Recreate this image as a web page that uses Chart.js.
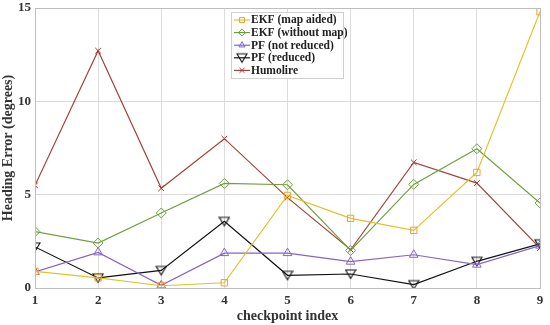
<!DOCTYPE html>
<html>
<head>
<meta charset="utf-8">
<script src="https://cdn.jsdelivr.net/npm/chart.js@4"></script>
<style>
  html, body { margin: 0; padding: 0; background: #fff; }
  #wrap { width: 550px; height: 325px; }
</style>
</head>
<body>
<div id="wrap"><canvas id="chart" width="550" height="325"></canvas></div>
<script>
// values
const checkpoints = [1, 2, 3, 4, 5, 6, 7, 8, 9];
const ekfMapAided = [0.89, 0.54, 0.12, 0.28, 4.96, 3.73, 3.09, 6.19, 14.8];
const ekfWithoutMap = [3.02, 2.41, 4.02, 5.6, 5.53, 2.01, 5.55, 7.46, 4.55];
const pfNotReduced = [0.86, 1.91, 0.14, 1.87, 1.87, 1.41, 1.78, 1.25, 2.27];
const pfReduced = [2.2, 0.54, 0.94, 3.57, 0.68, 0.75, 0.18, 1.43, 2.37];
const humolire = [5.5, 12.71, 5.34, 8.0, 4.84, 2.05, 6.73, 5.62, 2.14];
const yTicks = [0, 5, 10, 15];

const serif = "'Liberation Serif', 'Times New Roman', serif";

function series(label, values, line, marker, style, size) {
  return {
    label: label,
    data: values.map((v, i) => ({ x: checkpoints[i], y: v })),
    borderColor: line,
    backgroundColor: 'rgba(0,0,0,0)',
    pointBorderColor: marker,
    pointBackgroundColor: 'rgba(0,0,0,0)',
    pointStyle: style,
    pointRadius: size,
    pointBorderWidth: 1,
    borderWidth: 1.2,
    tension: 0
  };
}

// inverted triangle for the reduced PF markers
const downTri = document.createElement('canvas');
downTri.width = 12; downTri.height = 12;
(function () {
  const c = downTri.getContext('2d');
  c.strokeStyle = '#111';
  c.lineWidth = 1.1;
  c.beginPath();
  c.moveTo(1, 2);
  c.lineTo(11, 2);
  c.lineTo(6, 10.5);
  c.closePath();
  c.stroke();
})();

const boxPlugin = {
  id: 'box',
  afterDraw(chart) {
    const { ctx, chartArea: a } = chart;
    ctx.save();
    ctx.strokeStyle = '#bdbdbd';
    ctx.lineWidth = 1;
    ctx.strokeRect(a.left + 0.5, a.top + 0.5, a.right - a.left, a.bottom - a.top);

    // legend box inside the plot
    const lx = 231, ly = 12, lw = 112, lh = 66;
    ctx.fillStyle = '#fff';
    ctx.fillRect(lx, ly, lw, lh);
    ctx.strokeStyle = '#d0d0d0';
    ctx.strokeRect(lx + 0.5, ly + 0.5, lw, lh);
    ctx.font = "bold 11.5px " + serif;
    ctx.textBaseline = 'middle';
    chart.data.datasets.forEach((ds, i) => {
      const y = ly + 8 + i * 12.6;
      ctx.strokeStyle = ds.borderColor;
      ctx.lineWidth = 1.2;
      ctx.beginPath();
      ctx.moveTo(lx + 3, y);
      ctx.lineTo(lx + 19, y);
      ctx.stroke();
      ctx.lineWidth = 1;
      ctx.strokeStyle = ds.pointBorderColor;
      ctx.fillStyle = 'rgba(0,0,0,0)';
      if (ds.pointStyle === downTri) {
        ctx.drawImage(downTri, lx + 5, y - 6, 12, 12);
      } else {
        Chart.helpers.drawPoint(ctx, {
          pointStyle: ds.pointStyle,
          radius: 3.5,
          borderWidth: 1,
          rotation: 0
        }, lx + 11, y);
      }
      ctx.fillStyle = '#222';
      ctx.fillText(ds.label, lx + 20, y + 0.5);
    });
    ctx.restore();
  }
};

const datasets = [
  series('EKF (map aided)', ekfMapAided, '#e3c12a', '#f0a030', 'rect', 4.5),
  series('EKF (without map)', ekfWithoutMap, '#6ea040', '#6ea040', 'rectRot', 5),
  series('PF (not reduced)', pfNotReduced, '#8565c4', '#8565c4', 'triangle', 5),
  series('PF (reduced)', pfReduced, '#111111', '#111111', downTri, 6),
  series('Humolire', humolire, '#a2433a', '#b0302a', 'crossRot', 4)
];

new Chart(document.getElementById('chart'), {
  type: 'line',
  data: { datasets: datasets },
  options: {
    responsive: false,
    animation: false,
    layout: { padding: { top: 8, right: 10, left: 0, bottom: 0 } },
    plugins: {
      legend: { display: false },
      tooltip: { enabled: false }
    },
    scales: {
      x: {
        type: 'linear',
        min: 1,
        max: 9,
        afterBuildTicks: s => { s.ticks = checkpoints.map(v => ({ value: v })); },
        afterFit: s => { s.height = 37; s.paddingRight = 0; },
        grid: { color: '#dcdcdc', drawTicks: false },
        border: { color: '#bdbdbd' },
        ticks: {
          color: '#333',
          padding: 5,
          font: { family: serif, size: 13, weight: 'bold' }
        },
        title: {
          display: true,
          text: 'checkpoint index',
          color: '#333',
          padding: { top: 0, bottom: 0 },
          font: { family: serif, size: 14, weight: 'bold' }
        }
      },
      y: {
        min: 0,
        max: 15,
        afterBuildTicks: s => { s.ticks = yTicks.map(v => ({ value: v })); },
        afterFit: s => { s.width = 35; s.paddingTop = 0; },
        grid: { color: '#dcdcdc', drawTicks: false },
        border: { color: '#bdbdbd' },
        ticks: {
          color: '#333',
          padding: 4,
          font: { family: serif, size: 13, weight: 'bold' }
        },
        title: {
          display: true,
          text: 'Heading Error (degrees)',
          color: '#333',
          padding: { top: 0, bottom: 2 },
          font: { family: serif, size: 14, weight: 'bold' }
        }
      }
    }
  },
  plugins: [boxPlugin]
});
</script>
</body>
</html>
